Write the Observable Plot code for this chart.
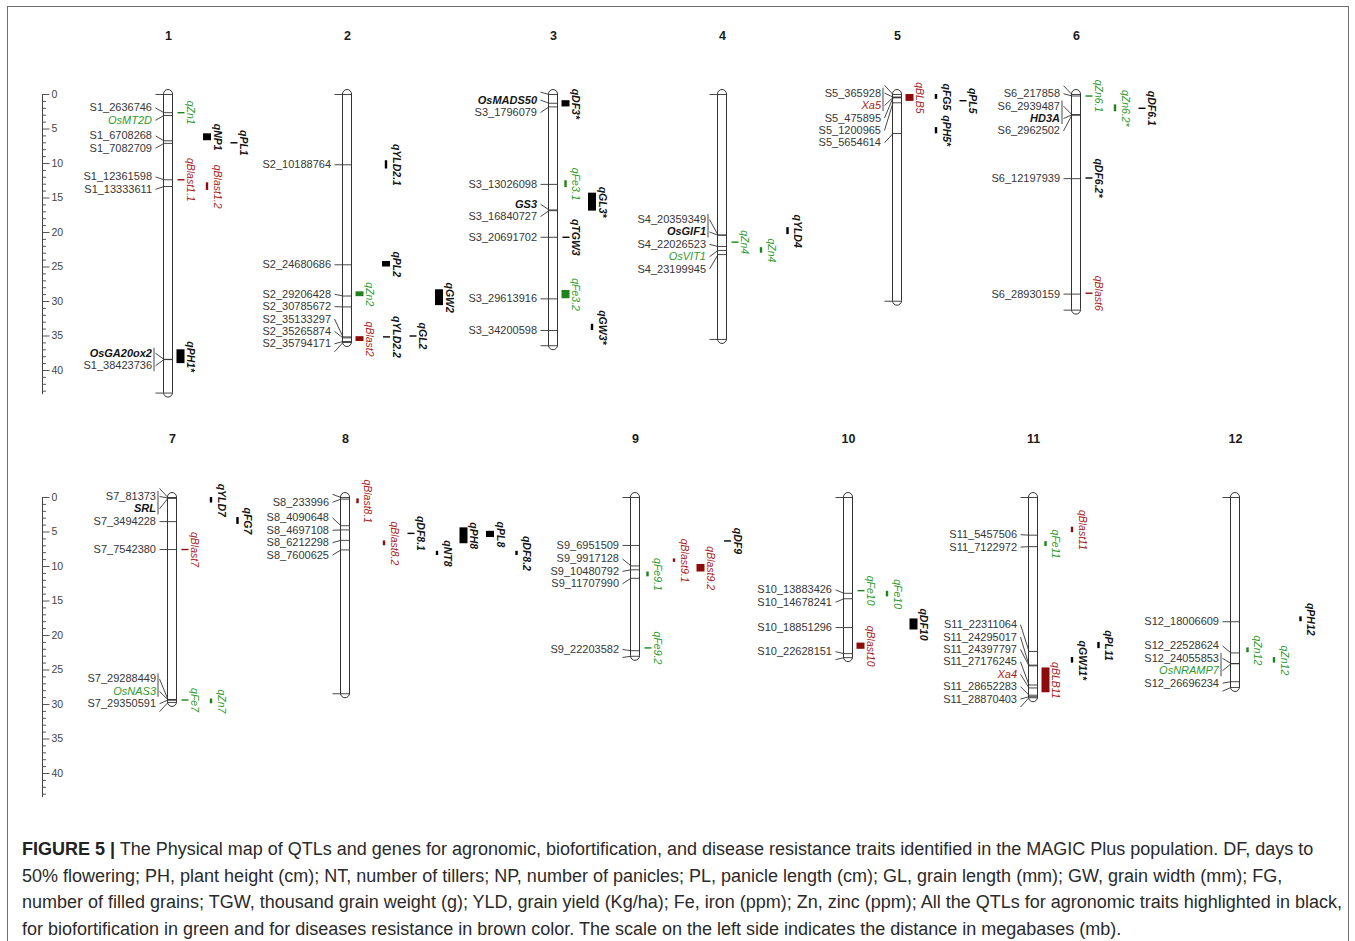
<!DOCTYPE html>
<html>
<head>
<meta charset="utf-8">
<script src="https://cdn.jsdelivr.net/npm/d3@7"></script>
<script src="https://cdn.jsdelivr.net/npm/@observablehq/plot@0.6"></script>
<style>
html,body{margin:0;padding:0;background:#fff;}
body{width:1355px;height:941px;position:relative;overflow:hidden;font-family:"Liberation Sans",Arial,Helvetica,sans-serif;}
#frame{position:absolute;left:7px;top:6px;width:1342px;height:1000px;border:1px solid #6e6e6e;box-sizing:border-box;pointer-events:none;}
.row{position:absolute;left:0;width:1355px;}
#row1{top:0px;}
#row2{top:403px;}
#caption{position:absolute;left:22px;top:836px;font-size:18px;line-height:26.7px;color:#2a2a2a;white-space:nowrap;}
#caption b{font-weight:bold;color:#222;}
</style>
</head>
<body>
<div id="row1" class="row"></div>
<div id="row2" class="row"></div>
<div id="caption"><b>FIGURE 5 |</b> The Physical map of QTLs and genes for agronomic, biofortification, and disease resistance traits identified in the MAGIC Plus population. DF, days to<br>50% flowering; PH, plant height (cm); NT, number of tillers; NP, number of panicles; PL, panicle length (cm); GL, grain length (mm); GW, grain width (mm); FG,<br>number of filled grains; TGW, thousand grain weight (g); YLD, grain yield (Kg/ha); Fe, iron (ppm); Zn, zinc (ppm); All the QTLs for agronomic traits highlighted in black,<br>for biofortification in green and for diseases resistance in brown color. The scale on the left side indicates the distance in megabases (mb).</div>
<div id="frame"></div>
<script>
// ---------------- DATA ----------------
const chromosomes = ["1","2","3","4","5","6","7","8","9","10","11","12"];
const chromLengthMb = [43.27, 35.94, 36.41, 35.50, 29.96, 31.25, 29.70, 28.44, 23.01, 23.21, 29.02, 27.53];

// SNP markers (physical position in bp is encoded in the name)
const snpMarkers = [
  "S1_2636746","S1_6708268","S1_7082709","S1_12361598","S1_13333611","S1_38423736",
  "S2_10188764","S2_24680686","S2_29206428","S2_30785672","S2_35133297","S2_35265874","S2_35794171",
  "S3_1796079","S3_13026098","S3_16840727","S3_20691702","S3_29613916","S3_34200598",
  "S4_20359349","S4_22026523","S4_23199945",
  "S5_365928","S5_475895","S5_1200965","S5_5654614",
  "S6_217858","S6_2939487","S6_2962502","S6_12197939","S6_28930159",
  "S7_81373","S7_3494228","S7_7542380","S7_29288449","S7_29350591",
  "S8_233996","S8_4090648","S8_4697108","S8_6212298","S8_7600625",
  "S9_6951509","S9_9917128","S9_10480792","S9_11707990","S9_22203582",
  "S10_13883426","S10_14678241","S10_18851296","S10_22628151",
  "S11_5457506","S11_7122972","S11_22311064","S11_24295017","S11_24397797","S11_27176245","S11_28652283","S11_28870403",
  "S12_18006609","S12_22528624","S12_24055853","S12_26696234"
];

// Known genes: [chromosome, gene, Mb, trait group, co-located marker]
const genes = [
  ["1","OsMT2D",3.05,"bio",null],
  ["1","OsGA20ox2",38.38,"agro","S1_38423736"],
  ["3","OsMADS50",1.27,"agro",null],
  ["3","GS3",16.73,"agro",null],
  ["4","OsGIF1",20.40,"agro","S4_20359349"],
  ["4","OsVIT1",22.60,"bio",null],
  ["5","Xa5",0.44,"dis","S5_365928"],
  ["6","HD3A",2.945,"agro","S6_2939487"],
  ["7","SRL",0.10,"agro","S7_81373"],
  ["7","OsNAS3",29.32,"bio","S7_29288449"],
  ["11","Xa4",27.60,"dis",null],
  ["12","OsNRAMP7",24.10,"bio","S12_24055853"]
];

// QTLs: [chromosome, name, start Mb, end Mb, trait group, interval type]
const qtls = [
  ["1","qZn1",2.64,2.64,"bio","peak"],
  ["1","qNP1",5.7,6.7,"agro","support"],
  ["1","qPL1",7.0,7.0,"agro","peak"],
  ["1","qBlast1.1",12.36,12.36,"dis","peak"],
  ["1","qBlast1.2",12.8,13.9,"dis","flank"],
  ["1","qPH1*",37.0,39.0,"agro","support"],
  ["2","qYLD2.1",9.6,10.8,"agro","flank"],
  ["2","qPL2",24.2,25.0,"agro","support"],
  ["2","qZn2",28.6,29.3,"bio","support"],
  ["2","qGW2",28.3,30.6,"agro","support"],
  ["2","qBlast2",35.1,35.8,"dis","support"],
  ["2","qYLD2.2",35.13,35.13,"agro","peak"],
  ["2","qGL2",35.0,35.0,"agro","peak"],
  ["3","qDF3*",0.9,1.8,"agro","support"],
  ["3","qFe3.1",12.5,13.5,"bio","flank"],
  ["3","qGL3*",14.3,16.9,"agro","support"],
  ["3","qTGW3",20.69,20.69,"agro","peak"],
  ["3","qFe3.2",28.4,29.6,"bio","support"],
  ["3","qGW3*",33.3,34.2,"agro","flank"],
  ["4","qZn4",21.4,21.4,"bio","peak"],
  ["4","qZn4",22.2,23.0,"bio","flank"],
  ["4","qYLD4",19.3,20.3,"agro","flank"],
  ["5","qBLB5",0.0,1.0,"dis","support"],
  ["5","qFG5",0.0,0.7,"agro","flank"],
  ["5","qPL5",0.9,0.9,"agro","peak"],
  ["5","qPH5*",4.8,5.7,"agro","flank"],
  ["6","qZn6.1",0.22,0.22,"bio","peak"],
  ["6","qZn6.2*",1.5,2.5,"bio","flank"],
  ["6","qDF6.1",2.0,2.0,"agro","peak"],
  ["6","qDF6.2*",12.1,12.1,"agro","peak"],
  ["6","qBlast6",28.8,28.8,"dis","peak"],
  ["7","qYLD7",0.0,0.8,"agro","flank"],
  ["7","qFG7",2.9,3.9,"agro","flank"],
  ["7","qBlast7",7.54,7.54,"dis","peak"],
  ["7","qFe7",29.35,29.35,"bio","peak"],
  ["7","qZn7",29.2,29.9,"bio","flank"],
  ["8","qBlast8.1",0.2,0.9,"dis","flank"],
  ["8","qBlast8.2",6.3,7.0,"dis","flank"],
  ["8","qDF8.1",5.2,5.2,"agro","peak"],
  ["8","qNT8",7.8,8.4,"agro","flank"],
  ["8","qPH8",4.4,6.7,"agro","support"],
  ["8","qPL8",4.9,5.8,"agro","support"],
  ["8","qDF8.2",7.8,8.4,"agro","flank"],
  ["9","qFe9.1",10.8,11.5,"bio","flank"],
  ["9","qFe9.2",21.8,21.8,"bio","peak"],
  ["9","qBlast9.1",8.9,9.4,"dis","flank"],
  ["9","qBlast9.2",9.7,10.8,"dis","support"],
  ["9","qDF9",6.3,6.3,"agro","peak"],
  ["10","qFe10",13.5,13.5,"bio","peak"],
  ["10","qFe10",13.6,14.4,"bio","flank"],
  ["10","qDF10",17.6,19.2,"agro","support"],
  ["10","qBlast10",21.1,22.0,"dis","support"],
  ["11","qFe11",6.4,7.1,"bio","flank"],
  ["11","qBlast11",4.3,5.1,"dis","flank"],
  ["11","qPL11",21.0,21.9,"agro","flank"],
  ["11","qGW11*",23.2,24.0,"agro","flank"],
  ["11","qBLB11",24.7,28.3,"dis","support"],
  ["12","qZn12",21.8,22.5,"bio","flank"],
  ["12","qZn12",23.2,24.0,"bio","flank"],
  ["12","qPH12",17.3,18.0,"agro","flank"]
];

const scaleMajorTicks = [0,5,10,15,20,25,30,35,40];

// ---------------- LAYOUT (positions & styles) ----------------
const W = 1355, ROW_H = 403, Y0 = 94, PX_PER_MB = 6.9;
const chromX = {"1":168,"2":347,"3":553,"4":722,"5":897,"6":1076,"7":172,"8":345,"9":635,"10":848,"11":1033,"12":1235};
const qtlLane = [0,1,2,0,1,0, 1,1,0,3,0,1,2, 0,0,1,0,0,1, 0,1,2, 0,1,2,1, 0,1,2,0,0, 1,2,0,0,1, 0,1,2,3,4,5,6, 0,0,1,2,3, 0,1,2,0, 0,1,2,1,0, 0,1,2];
const traitText = {agro:"#151515", bio:"#2e9a2e", dis:"#a61e1e"};
const traitMark = {agro:"#000000", bio:"#1d841d", dis:"#8c0c0c"};
const FONT = '"Liberation Sans", Arial, Helvetica, sans-serif';
const TEXT_H = 12.4 / PX_PER_MB, BLANK_H = 3.6 / PX_PER_MB, CLAMP = 1.35;
const chrLen = Object.fromEntries(chromosomes.map((c,i)=>[c, chromLengthMb[i]]));

// label de-overlapping (cluster spreading, as MapChart does)
function spread(items, len){
  let clusters = items.map(it => [it]);
  const place = c => {
    let cum = 0;
    const offs = c.map(it => { const h = it.blank ? BLANK_H : TEXT_H; const o = cum + h/2; cum += h; return o; });
    let s = d3.mean(c, d => d.mb) - d3.mean(offs);
    if (s + offs[offs.length-1] > len + CLAMP) s = len + CLAMP - offs[offs.length-1];
    if (s + offs[0] < -CLAMP) s = -CLAMP - offs[0];
    return {s, H: cum, offs};
  };
  let changed = true;
  while (changed){
    changed = false;
    for (let i = 0; i < clusters.length - 1; i++){
      const a = place(clusters[i]), b = place(clusters[i+1]);
      if (a.s + a.H > b.s + 1e-6){ clusters.splice(i, 2, clusters[i].concat(clusters[i+1])); changed = true; break; }
    }
  }
  for (const c of clusters){ const p = place(c); c.forEach((it,k) => it.labelMb = p.s + p.offs[k]); }
}

const labelItems = [];
chromosomes.forEach((c,i) => {
  const len = chromLengthMb[i];
  const items = [{chr:c, name:"", mb:0, blank:true}];
  snpMarkers.filter(n => n.split("_")[0] === "S"+c)
    .forEach(n => items.push({chr:c, name:n, mb:+n.split("_")[1]/1e6, kind:"snp"}));
  genes.filter(g => g[0] === c)
    .forEach(g => items.push({chr:c, name:g[1], mb:g[2], trait:g[3], pair:g[4], kind:"gene"}));
  items.push({chr:c, name:"", mb:len, blank:true});
  items.sort((a,b) => a.mb - b.mb);
  spread(items, len);
  labelItems.push(...items);
});

const brackets = labelItems.filter(d => d.kind === "gene" && d.pair).map(g => {
  const m = labelItems.find(d => d.name === g.pair);
  return {chr:g.chr, y1: Math.min(m.labelMb, g.labelMb) - 0.8, y2: Math.max(m.labelMb, g.labelMb) + 0.8};
});

const qtlRecs = qtls.map((q,k) => ({chr:q[0], name:q[1], start:q[2], end:q[3], trait:q[4], kind:q[5], lane:qtlLane[k]}));
const laneX = d => chromX[d.chr] + 12.5 + 26.5 * d.lane;

function drawRow(r, el){
  const chrs = chromosomes.filter((c,i) => (i < 6 ? 0 : 1) === r);
  const inRow = d => chrs.includes(d.chr);
  const L = labelItems.filter(inRow), Q = qtlRecs.filter(inRow), B = brackets.filter(inRow);
  const cx = d => chromX[d.chr];
  const minor = d3.range(0, 44);
  const chart = Plot.plot({
    width: W, height: ROW_H,
    marginTop: 0, marginRight: 0, marginBottom: 0, marginLeft: 0,
    x: {domain: [0, W], range: [0, W], axis: null},
    y: {domain: [0, 40], range: [Y0, Y0 + 40 * PX_PER_MB], axis: null},
    color: {type: "identity"},
    style: {fontFamily: FONT, background: "transparent", overflow: "visible"},
    marks: [
      // distance scale
      Plot.ruleX([42], {y1: 0, y2: 43.5, stroke: "#444", strokeWidth: 1}),
      Plot.link(minor, {x1: 42, x2: d => 42 + (d % 5 === 0 ? 7 : 3.5), y1: d => d, y2: d => d, stroke: "#444", strokeWidth: 0.9}),
      Plot.text(scaleMajorTicks, {x: 51, y: d => d, text: d => String(d), textAnchor: "start", fontSize: 10.5, fill: "#444"}),
      // chromosome numbers
      Plot.text(chrs, {x: c => chromX[c], y: -8.5, text: c => c, fontWeight: "bold", fontSize: 12.5, fill: "#1a1a1a"}),
      // chromosome bodies
      Plot.rect(chrs, {x1: c => chromX[c] - 4.5, x2: c => chromX[c] + 4.5, y1: 0, y2: c => chrLen[c], rx: 4.5, insetTop: -4.5, insetBottom: -4.5, fill: "white", stroke: "#333", strokeWidth: 1}),
      // marker lines across the chromosome
      Plot.link(L, {x1: d => cx(d) - 4.5, x2: d => cx(d) + 4.5, y1: "mb", y2: "mb", stroke: "#333", strokeWidth: 0.9}),
      // connectors from labels
      Plot.link(L, {x1: d => cx(d) - 13, y1: "labelMb", x2: d => cx(d) - 4.5, y2: "mb", stroke: "#333", strokeWidth: 0.9}),
      // brackets joining a gene with its co-located marker
      Plot.link(B, {x1: d => cx(d) - 14.5, x2: d => cx(d) - 14.5, y1: "y1", y2: "y2", stroke: "#333", strokeWidth: 0.9}),
      // marker labels
      Plot.text(L.filter(d => d.kind === "snp"), {x: d => cx(d) - 16.5, y: "labelMb", text: "name", textAnchor: "end", fontSize: 11, fill: "#363636"}),
      // gene labels
      Plot.text(L.filter(d => d.kind === "gene" && d.trait === "agro"), {x: d => cx(d) - 16.5, y: "labelMb", text: "name", textAnchor: "end", fontSize: 11, fontStyle: "italic", fontWeight: "bold", fill: traitText.agro}),
      Plot.text(L.filter(d => d.kind === "gene" && d.trait !== "agro"), {x: d => cx(d) - 16.5, y: "labelMb", text: "name", textAnchor: "end", fontSize: 11, fontStyle: "italic", fill: d => traitText[d.trait]}),
      // QTL intervals
      Plot.rect(Q.filter(d => d.kind === "support"), {x1: d => laneX(d) - 4, x2: d => laneX(d) + 4, y1: "start", y2: "end", fill: d => traitMark[d.trait]}),
      Plot.rect(Q.filter(d => d.kind === "flank"), {x1: d => laneX(d) - 1.2, x2: d => laneX(d) + 1.2, y1: "start", y2: "end", fill: d => traitMark[d.trait]}),
      Plot.link(Q.filter(d => d.kind === "peak"), {x1: d => laneX(d) - 3.5, x2: d => laneX(d) + 3.5, y1: "start", y2: "start", stroke: d => traitMark[d.trait], strokeWidth: 1.4}),
      // QTL labels
      Plot.text(Q.filter(d => d.trait === "agro"), {x: d => laneX(d) + 9.5, y: d => (d.start + d.end) / 2, text: "name", rotate: 90, fontSize: 10.5, fontStyle: "italic", fontWeight: "bold", fill: traitText.agro}),
      Plot.text(Q.filter(d => d.trait !== "agro"), {x: d => laneX(d) + 9.5, y: d => (d.start + d.end) / 2, text: "name", rotate: 90, fontSize: 10.5, fontStyle: "italic", fill: d => traitText[d.trait]})
    ]
  });
  el.appendChild(chart);
}

drawRow(0, document.getElementById("row1"));
drawRow(1, document.getElementById("row2"));
</script>
</body>
</html>
